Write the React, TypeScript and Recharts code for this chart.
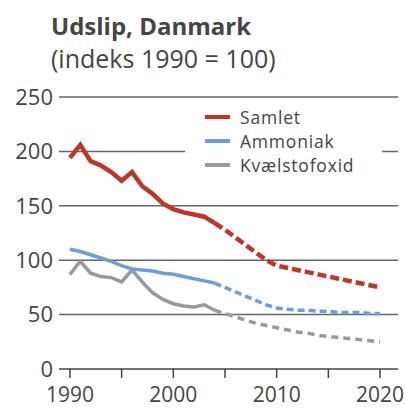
import React from 'react'
import { LineChart, Line, XAxis, YAxis, CartesianGrid } from 'recharts'

const years = [
  1990, 1991, 1992, 1993, 1994, 1995, 1996, 1997, 1998, 1999, 2000,
  2001, 2002, 2003, 2004, 2005, 2006, 2007, 2008, 2009, 2010,
  2011, 2012, 2013, 2014, 2015, 2016, 2017, 2018, 2019, 2020,
]
const samlet = [
  194, 206, 191, 187, 181, 173, 181, 168, 161, 152, 147,
  144, 142, 140, 134, 128, 121, 114, 107, 100, 95,
  93, 91, 89, 87, 85, 83, 81, 79, 77, 75,
]
const ammoniak = [
  110, 108, 105, 102, 99, 95, 92, 91, 90, 88, 87,
  85, 83, 81, 79, 75, 71, 67, 63, 59, 56,
  55, 54, 54, 53, 53, 52, 52, 52, 51, 51,
]
const kvaelstofoxid = [
  87, 99, 88, 85, 84, 80, 91, 80, 70, 64, 60,
  58, 57, 59, 54, 51, 48, 45, 42, 40, 38,
  36, 34, 33, 31, 30, 29, 28, 27, 26, 25,
]
const lastMeasured = 2004
const xTicks = [1990, 1995, 2000, 2005, 2010, 2015, 2020]
const xLabels = [1990, 2000, 2010, 2020]
const yTicks = [0, 50, 100, 150, 200, 250]

const seriesInfo = [
  { name: 'Samlet', color: '#bd3629' },
  { name: 'Ammoniak', color: '#6f9dd4' },
  { name: 'Kvælstofoxid', color: '#999999' },
]

const data = years.map((year, i) => ({
  year,
  samlet: year <= lastMeasured ? samlet[i] : null,
  samletProg: year >= lastMeasured ? samlet[i] : null,
  ammoniak: year <= lastMeasured ? ammoniak[i] : null,
  ammoniakProg: year >= lastMeasured ? ammoniak[i] : null,
  kvaelstof: year <= lastMeasured ? kvaelstofoxid[i] : null,
  kvaelstofProg: year >= lastMeasured ? kvaelstofoxid[i] : null,
}))

const font = '"Open Sans", "Noto Sans", sans-serif'
const textColor = '#454545'

export default function App() {
  return (
    <div style={{ position: 'absolute', left: 0, top: 0, width: 405, height: 410, background: '#fff', fontFamily: font }}>
      <div style={{ position: 'absolute', left: 51, top: 9, color: textColor, lineHeight: '33px' }}>
        <div style={{ fontWeight: 700, fontSize: 24 }}>Udslip, Danmark</div>
        <div style={{ fontSize: 25 }}>(indeks 1990 = 100)</div>
      </div>
      <LineChart width={405} height={410} data={data} margin={{ top: 97, right: 7, bottom: 11, left: 0 }}>
        <CartesianGrid vertical={false} stroke="#666" strokeWidth={1.5} horizontalValues={[50, 100, 150, 200, 250]} />
        <XAxis
          dataKey="year"
          type="number"
          domain={[1988.94, 2021.74]}
          ticks={xTicks}
          tickFormatter={(v: number) => (xLabels.includes(v) ? String(v) : '')}
          height={30}
          tickSize={9}
          tickMargin={9}
          axisLine={{ stroke: '#444', strokeWidth: 1.5 }}
          tickLine={{ stroke: '#444', strokeWidth: 1.5 }}
          tick={{ fill: textColor, fontSize: 21, fontFamily: font }}
          interval={0}
        />
        <YAxis
          type="number"
          domain={[0, 250]}
          ticks={yTicks}
          width={59}
          axisLine={false}
          tickLine={false}
          tickSize={6}
          tickMargin={0}
          tick={{ fill: textColor, fontSize: 22, fontFamily: font }}
          interval={0}
        />
        <Line dataKey="kvaelstof" stroke={seriesInfo[2].color} strokeWidth={3.5} dot={false} isAnimationActive={false} />
        <Line dataKey="kvaelstofProg" stroke={seriesInfo[2].color} strokeWidth={3.5} strokeDasharray="7 5" dot={false} isAnimationActive={false} />
        <Line dataKey="ammoniak" stroke={seriesInfo[1].color} strokeWidth={3.5} dot={false} isAnimationActive={false} />
        <Line dataKey="ammoniakProg" stroke={seriesInfo[1].color} strokeWidth={3.5} strokeDasharray="7 4" dot={false} isAnimationActive={false} />
        <Line dataKey="samlet" stroke={seriesInfo[0].color} strokeWidth={4.5} dot={false} isAnimationActive={false} />
        <Line dataKey="samletProg" stroke={seriesInfo[0].color} strokeWidth={4.5} strokeDasharray="9 4" dot={false} isAnimationActive={false} />
      </LineChart>
      <div style={{ position: 'absolute', left: 185, top: 104, width: 197, height: 74, background: '#fff' }}>
        {seriesInfo.map((s, i) => (
          <div key={s.name} style={{ position: 'absolute', left: 20, top: 1 + i * 24, height: 24, display: 'flex', alignItems: 'center' }}>
            <span style={{ display: 'inline-block', width: 25, height: 4, background: s.color, marginRight: 10 }} />
            <span style={{ color: textColor, fontSize: 17.5, lineHeight: '24px', letterSpacing: 0.8, whiteSpace: 'nowrap' }}>{s.name}</span>
          </div>
        ))}
      </div>
    </div>
  )
}
